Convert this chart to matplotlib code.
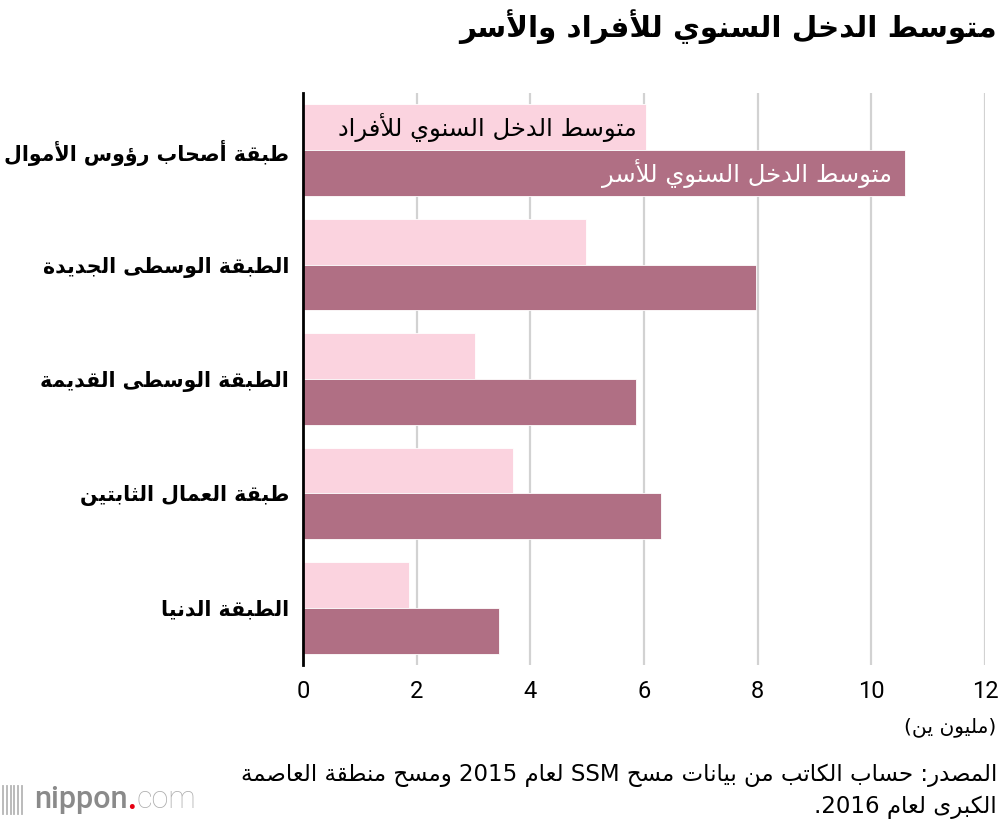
import re
import numpy as np
import matplotlib
matplotlib.use("Agg")
import matplotlib.pyplot as plt
from matplotlib.lines import Line2D

# --- data -------------------------------------------------------------
categories = ["طبقة أصحاب رؤوس الأموال", "الطبقة الوسطى الجديدة",
              "الطبقة الوسطى القديمة", "طبقة العمال الثابتين", "الطبقة الدنيا"]
individual = [6.03, 4.98, 3.03, 3.69, 1.86]
household = [10.59, 7.97, 5.86, 6.30, 3.44]
label_ind = "متوسط الدخل السنوي للأفراد"
label_hh = "متوسط الدخل السنوي للأسر"
title = "متوسط الدخل السنوي للأفراد والأسر"
unit = "(مليون ين)"
source1 = "المصدر: حساب الكاتب من بيانات مسح SSM لعام 2015 ومسح منطقة العاصمة"
source2 = "الكبرى لعام 2016."
xticks = [0, 2, 4, 6, 8, 10, 12]

# --- minimal arabic shaping (no reshaper lib available) ---------------
_tbl = [("ء", 0xFE80, 1), ("آ", 0xFE81, 2), ("أ", 0xFE83, 2), ("ؤ", 0xFE85, 2),
        ("إ", 0xFE87, 2), ("ئ", 0xFE89, 4), ("ا", 0xFE8D, 2), ("ب", 0xFE8F, 4),
        ("ة", 0xFE93, 2), ("ت", 0xFE95, 4), ("ث", 0xFE99, 4), ("ج", 0xFE9D, 4),
        ("ح", 0xFEA1, 4), ("خ", 0xFEA5, 4), ("د", 0xFEA9, 2), ("ذ", 0xFEAB, 2),
        ("ر", 0xFEAD, 2), ("ز", 0xFEAF, 2), ("س", 0xFEB1, 4), ("ش", 0xFEB5, 4),
        ("ص", 0xFEB9, 4), ("ض", 0xFEBD, 4), ("ط", 0xFEC1, 4), ("ظ", 0xFEC5, 4),
        ("ع", 0xFEC9, 4), ("غ", 0xFECD, 4), ("ف", 0xFED1, 4), ("ق", 0xFED5, 4),
        ("ك", 0xFED9, 4), ("ل", 0xFEDD, 4), ("م", 0xFEE1, 4), ("ن", 0xFEE5, 4),
        ("ه", 0xFEE9, 4), ("و", 0xFEED, 2), ("ى", 0xFEEF, 2), ("ي", 0xFEF1, 4)]
FORMS = {c: [s + k for k in range(n)] for c, s, n in _tbl}
LAMALEF = {"آ": 0xFEF5, "أ": 0xFEF7, "إ": 0xFEF9, "ا": 0xFEFB}


def ar(s):
    def dual(c):
        return c in FORMS and len(FORMS[c]) == 4

    def joinable(c):
        return c in FORMS and len(FORMS[c]) > 1

    out = []
    i = 0
    while i < len(s):
        c = s[i]
        if c not in FORMS:
            out.append(c)
            i += 1
            continue
        pj = i > 0 and dual(s[i - 1]) and joinable(c)
        if c == "ل" and i + 1 < len(s) and s[i + 1] in LAMALEF:
            b = LAMALEF[s[i + 1]]
            out.append(chr(b + 1 if pj else b))
            i += 2
            continue
        nj = dual(c) and i + 1 < len(s) and joinable(s[i + 1])
        f = FORMS[c]
        if pj and nj:
            g = f[3]
        elif pj:
            g = f[1]
        elif nj:
            g = f[2]
        else:
            g = f[0]
        out.append(chr(g))
        i += 1
    v = "".join(out)[::-1]
    v = re.sub(r"[A-Za-z0-9]+", lambda m: m.group(0)[::-1], v)
    return v.translate(str.maketrans("()", ")("))


# --- plot -------------------------------------------------------------
plt.rcParams["font.family"] = ["DejaVu Sans"]
light = "#fbd3df"
dark = "#b06f84"

fig = plt.figure(figsize=(10, 8.24), dpi=100)
ax = fig.add_axes([0.303, 1 - 665 / 824, 0.682, 572 / 824])

y = np.arange(len(categories))
h = 0.4
ax.barh(y - h / 2, individual, height=h, color=light, edgecolor="white",
        linewidth=0.6, zorder=2)
ax.barh(y + h / 2, household, height=h, color=dark, edgecolor="white",
        linewidth=0.6, zorder=2)

ax.set_xlim(0, 12)
ax.set_ylim(len(categories) - 0.5, -0.5)
ax.set_xticks(xticks)
ax.set_xticklabels([str(t) for t in xticks], fontsize=17, family="Roboto")
ax.set_yticks(y)
ax.set_yticklabels([ar(c) for c in categories], fontsize=14.8, fontweight="bold")
ax.tick_params(axis="both", length=0)
ax.tick_params(axis="x", pad=11)
ax.tick_params(axis="y", pad=10)
ax.grid(axis="x", color="#d2d2d2", linewidth=1.6, zorder=0)
ax.set_axisbelow(True)
for s in ["top", "right", "bottom"]:
    ax.spines[s].set_visible(False)
ax.spines["left"].set_linewidth(2)
ax.spines["left"].set_color("black")
ax.spines["left"].set_zorder(3)

ax.text(individual[0] - 0.15, 0 - h / 2, ar(label_ind), ha="right", va="center",
        fontsize=17.5, color="black", zorder=4)
ax.text(household[0] - 0.22, 0 + h / 2, ar(label_hh), ha="right", va="center",
        fontsize=17.5, color="white", zorder=4)

fig.text(0.997, 1 - 27 / 824, ar(title), ha="right", va="center",
         fontsize=21.2, fontweight="bold")
fig.text(0.996, 1 - 727 / 824, ar(unit), ha="right", va="center", fontsize=14.5)
fig.text(0.997, 1 - 775 / 824, ar(source1), ha="right", va="center", fontsize=16.5)
fig.text(0.997, 1 - 807 / 824, ar(source2), ha="right", va="center", fontsize=16.5)

# nippon.com mark
for k, xx in enumerate(np.linspace(0.003, 0.022, 6)):
    fig.add_artist(Line2D([xx, xx], [1 - 814 / 824, 1 - 786 / 824],
                          color="#b5b5b5", linewidth=1.3))
t1 = fig.text(0.034, 1 - 800 / 824, "nippon", ha="left", va="center",
              fontsize=22, color="#8a8a8a", family="Roboto", fontweight="medium")
fig.canvas.draw()
x2 = t1.get_window_extent().x1 / fig.bbox.width
t2 = fig.text(x2, 1 - 800 / 824, ".", ha="left", va="center",
              fontsize=22, color="#e60012", family="Roboto", fontweight="bold")
fig.canvas.draw()
x3 = t2.get_window_extent().x1 / fig.bbox.width
fig.text(x3, 1 - 800 / 824, "com", ha="left", va="center",
         fontsize=22, color="#b0b0b0", family="Roboto", fontweight="light")

fig.savefig("out.png", dpi=100)
